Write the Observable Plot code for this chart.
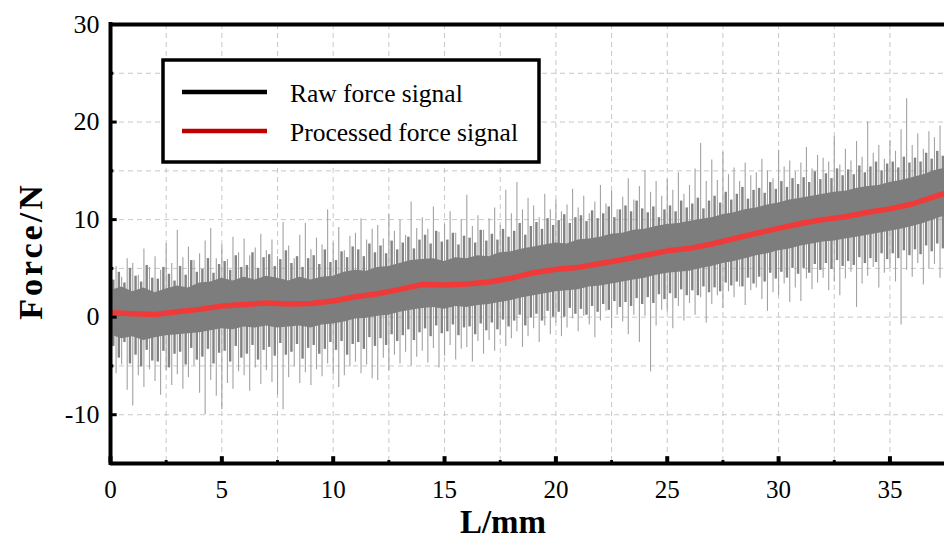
<!DOCTYPE html>
<html><head><meta charset="utf-8">
<script src="https://cdn.jsdelivr.net/npm/d3@7"></script>
<script src="https://cdn.jsdelivr.net/npm/@observablehq/plot@0.6"></script>
<style>html,body{margin:0;padding:0;overflow:hidden;background:#fff}</style>
</head><body><div id="chart"></div>
<script>
// ---- data ----
const xTicks = [0, 5, 10, 15, 20, 25, 30, 35];
const xMinorTicks = [2.5, 7.5, 12.5, 17.5, 22.5, 27.5, 32.5, 37.5];
const yTicks = [-10, 0, 10, 20, 30];
const yMinorTicks = [-5, 5, 15, 25];
const gridXValues = [0, 2.5, 5, 7.5, 10, 12.5, 15, 17.5, 20, 22.5, 25, 27.5, 30, 32.5, 35, 37.5];
const gridYValues = [-10, -5, 0, 5, 10, 15, 20, 25];

// processed (smoothed) force, every 1 mm
const procX = d3.range(0, 39, 1);
const procY = [0.45,0.35,0.28,0.55,0.8,1.15,1.3,1.45,1.35,1.4,
  1.65,2.1,2.4,2.85,3.35,3.3,3.4,3.6,4.0,4.55,
  4.9,5.1,5.5,5.9,6.35,6.8,7.05,7.5,8.05,8.6,
  9.1,9.6,10.0,10.3,10.75,11.1,11.6,12.35,13.1];

// dense core of the raw signal, every 0.5 mm
const bandX = d3.range(0, 38.01, 0.5);
const bandHi = [2.7,3.1,2.6,3.0,2.5,2.9,3.2,3.0,3.5,3.6,
  4.0,3.7,4.1,3.8,4.2,4.0,3.7,4.1,3.8,4.1,
  4.2,4.6,4.8,4.7,5.1,5.2,5.5,5.8,5.9,6.0,
  5.7,6.1,6.0,6.3,6.2,6.6,6.7,7.0,7.2,7.4,
  7.6,7.5,7.9,8.0,8.2,8.5,8.6,8.9,9.0,9.3,
  9.5,9.6,9.8,10.0,10.2,10.5,10.7,11.0,11.2,11.5,
  11.7,12.0,12.2,12.4,12.6,12.8,12.9,13.2,13.4,13.5,
  13.8,14.0,14.3,14.6,15.0,15.3,15.7];
const bandLo = [-1.8,-2.2,-2.0,-2.4,-2.1,-1.9,-1.8,-1.7,-1.6,-1.4,
  -1.2,-1.3,-1.0,-1.1,-0.9,-1.1,-1.0,-0.9,-1.1,-0.8,
  -0.7,-0.5,-0.2,-0.1,0.1,0.2,0.5,0.7,0.9,1.0,
  0.8,1.1,1.0,1.2,1.3,1.5,1.7,2.0,2.2,2.4,
  2.6,2.7,2.8,3.1,3.2,3.4,3.6,3.8,4.0,4.3,
  4.5,4.6,4.7,5.0,5.2,5.5,5.7,6.0,6.3,6.5,
  6.8,7.0,7.3,7.5,7.7,7.8,8.0,8.2,8.4,8.6,
  8.8,9.0,9.3,9.6,10.0,10.4,10.8];

// raw signal peaks (light spikes), every 0.25 mm
const rawX = d3.range(0, 38, 0.25);
const rawHi = [
  3.5,5.2,4.1,6.0,  5.5,4.3,7.0,5.1,  6.2,4.8,7.5,5.5,  8.9,6.1,7.2,5.8,
  6.5,7.8,9.1,6.0,  7.4,5.9,8.2,6.6,  8.0,6.3,7.1,8.5,  6.8,7.9,6.2,9.7,
  7.3,6.0,8.4,9.6,  6.9,8.1,7.4,11.0, 7.6,9.2,6.8,8.3,  8.6,10.1,7.9,9.0,
  9.4,8.0,10.5,8.8, 9.9,8.4,11.8,9.1, 10.2,9.0,11.3,8.7, 9.5,10.8,8.6,10.0,
  12.5,9.3,10.4,8.9, 10.1,11.2,9.4,13.0, 10.6,13.8,11.0,12.2, 11.4,10.2,12.6,11.0,
  12.0,10.8,11.5,13.1, 11.2,12.4,10.6,11.8, 13.5,11.6,12.9,11.0, 12.3,14.2,12.0,13.4,
  15.0,12.8,13.9,12.4, 14.1,13.0,14.8,12.6, 13.5,15.2,17.8,13.9, 16.1,14.0,16.9,14.6,
  15.3,13.9,15.8,14.5, 14.8,16.2,15.0,14.2, 17.1,15.4,16.0,14.9, 15.8,17.4,15.2,16.6,
  16.3,15.9,18.5,15.6, 17.2,16.0,18.0,16.4, 20.0,16.8,17.6,16.2, 18.1,17.0,19.2,22.4,
  17.6,18.8,17.2,19.0, 18.4,19.6,17.9,18.7];
const rawLo = [
  -3.0,-5.8,-4.9,-7.5, -9.1,-6.0,-7.2,-5.4, -6.6,-8.0,-5.5,-7.0, -5.9,-7.4,-6.2,-5.0,
  -7.8,-10.0,-6.5,-8.1, -9.5,-6.8,-7.4,-5.6, -6.0,-7.6,-5.2,-6.9, -5.5,-6.7,-8.0,-9.5,
  -6.2,-5.1,-6.8,-5.7, -7.0,-5.4,-6.1,-4.8, -5.9,-7.2,-6.0,-5.1, -4.6,-5.8,-4.9,-6.3,
  -6.5,-4.2,-5.5,-3.9, -4.8,-3.6,-5.0,-4.1, -3.5,-4.7,-3.2,-5.2, -4.0,-2.9,-4.4,-3.3,
  -3.1,-4.6,-2.5,-3.8, -2.4,-3.5,-1.9,-3.0, -2.2,-1.5,-3.1,-2.0, -1.2,-2.6,-0.9,-1.8,
  -0.6,-2.0,-1.1,-0.2, -1.5,0.1,-0.8,-2.1, -0.4,0.6,-1.2,0.2, -0.5,-1.8,0.2,-2.6,
  0.1,-5.6,-0.9,0.7, 0.5,-1.2,1.1,-0.4, 1.4,0.2,2.0,-0.6, 1.3,2.2,0.9,2.6,
  2.0,3.1,1.2,2.7, 3.0,1.8,0.6,2.5, 2.2,3.4,1.5,3.0, 1.6,3.9,2.8,3.5,
  4.0,2.7,3.6,2.2, 3.9,4.6,1.0,3.4, 4.2,5.1,3.0,4.5, 5.0,3.6,-0.8,4.8,
  4.1,5.5,3.3,4.9, 5.4,4.0,6.1,5.0];

// raw signal, medium excursions around the core, every 0.25 mm (offset 0.125)
const midX = d3.range(0.125, 38, 0.25);
const midHi = [
  3.8,4.6,3.5,5.0, 4.2,3.6,5.3,4.0, 3.9,5.1,4.4,3.7, 5.2,4.3,5.8,4.6,
  4.9,6.0,4.5,5.4, 5.7,4.8,6.3,5.1, 5.3,6.6,5.0,6.1, 6.4,5.2,5.9,6.8,
  5.5,6.2,5.1,6.0, 6.3,5.4,6.9,5.6, 5.8,6.7,6.1,7.2, 6.9,6.2,7.5,6.6,
  7.3,6.5,7.8,6.9, 7.6,8.2,7.0,7.9, 8.4,7.5,8.8,7.7, 7.9,8.6,7.4,8.3,
  8.1,7.6,8.9,7.8, 8.5,7.9,9.0,8.2, 8.8,9.6,8.4,9.3, 9.7,9.0,10.1,9.4,
  9.9,10.5,9.6,10.2, 10.4,9.8,10.9,10.1, 10.6,11.3,10.2,11.0, 11.4,10.8,11.9,11.1,
  10.7,11.3,10.2,11.0, 11.4,10.8,11.9,11.2, 11.6,12.2,11.1,11.9, 12.4,11.7,12.8,12.0,
  12.6,13.3,12.1,13.0, 13.2,12.7,13.8,13.1, 13.9,13.3,14.2,13.6, 14.3,13.8,14.9,14.1,
  14.7,14.2,15.2,14.5, 15.1,14.6,15.5,14.8, 15.4,15.9,15.0,15.7, 15.9,15.3,16.4,15.8,
  16.3,15.9,16.8,16.2, 17.0,16.5,17.4,16.7];
const midLo = [
  -3.0,-4.2,-2.6,-4.8, -3.9,-5.1,-3.4,-4.5, -4.6,-3.5,-5.2,-3.8, -3.6,-4.9,-3.2,-4.4,
  -4.1,-3.3,-4.8,-3.7, -3.5,-4.6,-3.0,-4.2, -3.8,-2.9,-4.4,-3.4, -3.1,-4.0,-2.7,-3.9,
  -3.6,-2.8,-4.3,-3.2, -2.9,-3.8,-3.3,-2.6, -3.4,-2.5,-3.9,-2.8, -2.6,-3.3,-2.1,-3.0,
  -2.2,-2.9,-1.8,-2.5, -1.9,-1.3,-2.4,-1.6, -1.2,-2.0,-0.9,-1.7, -1.5,-0.8,-1.9,-1.1,
  -1.0,-1.8,-0.7,-1.4, -0.6,-1.3,-0.3,-1.0, -0.4,0.2,-0.9,-0.1, 0.3,-0.4,0.6,0.0,
  0.5,0.0,0.9,0.3, 0.8,0.2,1.1,0.5, 1.3,0.7,1.6,1.0, 1.5,1.1,1.9,1.3,
  2.0,1.4,2.3,1.8, 2.4,1.9,2.8,2.2, 2.7,2.2,3.1,2.5, 3.0,2.6,3.5,3.2,
  3.6,3.1,4.0,3.4, 4.1,3.6,4.5,3.9, 4.6,4.0,5.0,4.4, 5.0,4.5,5.4,4.8,
  5.5,4.9,5.8,5.2, 5.7,5.3,6.1,5.5, 6.0,5.6,6.5,5.9, 6.5,6.0,6.8,6.3,
  6.9,6.4,7.3,6.7, 7.5,7.0,7.9,7.3];

// ---- tables for the marks ----
const proc = procX.map((x, i) => ({x, y: procY[i]}));
const band = bandX.map((x, i) => ({x, lo: bandLo[i], hi: bandHi[i]}));
const raw = rawX.map((x, i) => ({x, lo: rawLo[i], hi: rawHi[i]}));
const mid = midX.map((x, i) => ({x, lo: midLo[i], hi: midHi[i]}));

const serif = "'Liberation Serif', 'Times New Roman', Times, serif";
const grid = {stroke: "#c8c8c8", strokeOpacity: 1, strokeWidth: 1, strokeDasharray: "5,4"};

const plot = Plot.plot({
  width: 944, height: 539,
  marginLeft: 110, marginRight: 0, marginTop: 24, marginBottom: 76,
  x: {domain: [0, 37.45], axis: null},
  y: {domain: [-15, 30], axis: null},
  style: {fontFamily: serif, background: "#fff", color: "#000"},
  marks: [
    Plot.gridX(gridXValues, grid),
    Plot.gridY(gridYValues, grid),
    Plot.ruleX(raw, {x: "x", y1: "lo", y2: "hi", stroke: "#a2a2a2", strokeWidth: 1.1, clip: true}),
    Plot.ruleX(mid, {x: "x", y1: "lo", y2: "hi", stroke: "#838383", strokeWidth: 2.4, clip: true}),
    Plot.areaY(band, {x: "x", y1: "lo", y2: "hi", fill: "#7d7d7d", clip: true}),
    Plot.line(proc, {x: "x", y: "y", stroke: "#f03a3a", strokeWidth: 5.5, clip: true}),
    // ticks (inward)
    Plot.ruleY(yTicks, {x1: 0, x2: 0.3, stroke: "#000", strokeWidth: 3}),
    Plot.ruleY(yMinorTicks, {x1: 0, x2: 0.15, stroke: "#000", strokeWidth: 3}),
    Plot.ruleX(xTicks, {y1: -15, y2: -14.3, stroke: "#000", strokeWidth: 4}),
    Plot.ruleX(xMinorTicks, {y1: -15, y2: -14.7, stroke: "#000", strokeWidth: 3}),
    // frame
    Plot.ruleY([30], {stroke: "#000", strokeWidth: 4}),
    Plot.ruleY([-15], {stroke: "#000", strokeWidth: 4}),
    Plot.ruleX([0], {stroke: "#000", strokeWidth: 4, strokeLinecap: "square"}),
    // tick labels
    Plot.text(yTicks, {x: 0, y: d => d, text: d => String(d), dx: -11, textAnchor: "end",
      fontSize: 26, fontFamily: serif, fill: "#000"}),
    Plot.text(xTicks, {x: d => d, y: -15, text: d => String(d), dy: 26,
      fontSize: 25, fontFamily: serif, fill: "#000"})
  ]
});

const svg = d3.select(plot);
svg.append("text")
  .attr("x", 503).attr("y", 533).attr("text-anchor", "middle")
  .attr("font-family", serif).attr("font-size", 33).attr("font-weight", "bold")
  .attr("fill", "#000").text("L/mm");
svg.append("text")
  .attr("transform", "translate(42,251) rotate(-90)").attr("text-anchor", "middle")
  .attr("font-family", serif).attr("font-size", 34).attr("font-weight", "bold")
  .attr("letter-spacing", 3).attr("fill", "#000").text("Force/N");

// legend
const lg = svg.append("g").attr("text-anchor", "start");
lg.append("rect").attr("x", 163).attr("y", 60).attr("width", 376).attr("height", 102)
  .attr("fill", "#fff").attr("stroke", "#000").attr("stroke-width", 3.5);
lg.append("line").attr("x1", 182).attr("x2", 267).attr("y1", 92).attr("y2", 92)
  .attr("stroke", "#000").attr("stroke-width", 4.5);
lg.append("line").attr("x1", 182).attr("x2", 267).attr("y1", 131).attr("y2", 131)
  .attr("stroke", "#c00000").attr("stroke-width", 4.5);
lg.append("text").attr("x", 290).attr("y", 102).attr("text-anchor", "start").attr("font-family", serif)
  .attr("font-size", 25.5).attr("fill", "#000").text("Raw force signal");
lg.append("text").attr("x", 290).attr("y", 141).attr("text-anchor", "start").attr("font-family", serif)
  .attr("font-size", 25.5).attr("fill", "#000").text("Processed force signal");

document.getElementById("chart").appendChild(plot);
</script></body></html>
